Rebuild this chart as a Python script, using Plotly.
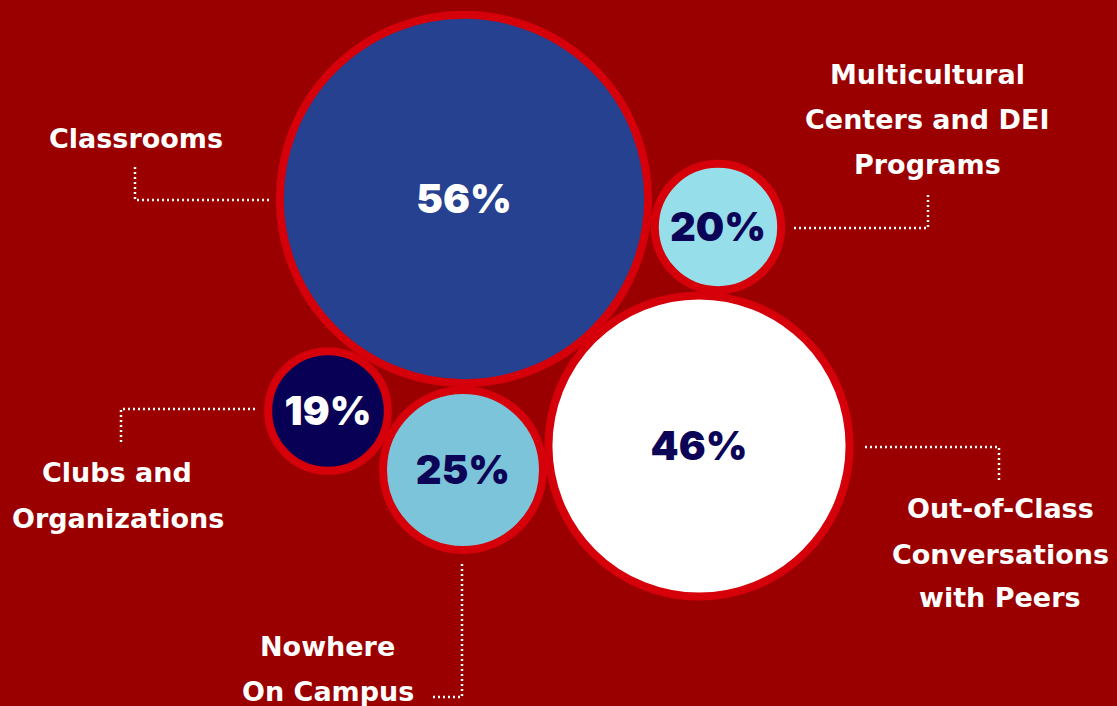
import plotly.graph_objects as go

# ---- data ----
categories = ["Classrooms", "Multicultural Centers and DEI Programs",
              "Out-of-Class Conversations with Peers", "Clubs and Organizations",
              "Nowhere On Campus"]
values = [56, 20, 46, 19, 25]

# ---- layout (pixel positions of the packed bubbles) ----
cx = [464, 718, 699, 328, 463]
cy = [199, 227, 446, 411, 470]
fills = ["#26418F", "#96DEEA", "#FFFFFF", "#070055", "#7BC4D9"]
text_colors = ["#FFFFFF", "#0B0457", "#0B0457", "#FFFFFF", "#0B0457"]

W, H = 1117, 706
BG = "#9B0000"
RING = "#D50009"
RING_W = 8
PX_PER_UNIT = 3.36  # outer radius per percentage point
TEXT_DY = 4         # optical centring of the value labels

diam = [2 * PX_PER_UNIT * v - RING_W for v in values]

fig = go.Figure()

# connectors (dotted elbows)
connectors = [
    [(135, 167), (135, 200), (270, 200)],
    [(928, 195), (928, 228), (793, 228)],
    [(121, 442), (121, 409), (257, 409)],
    [(462, 564), (462, 697), (430, 697)],
    [(999, 480), (999, 447), (865, 447)],
]
for pts in connectors:
    fig.add_trace(go.Scatter(
        x=[p[0] for p in pts], y=[p[1] for p in pts], mode="lines",
        line=dict(color="white", width=2.5, dash="2px,3px"),
        hoverinfo="skip", showlegend=False))

fig.add_trace(go.Scatter(
    x=cx, y=cy, mode="markers",
    marker=dict(size=diam, color=fills, line=dict(color=RING, width=RING_W),
                opacity=1),
    hovertext=[f"{c}: {v}%" for c, v in zip(categories, values)],
    hoverinfo="text", showlegend=False))

fig.add_trace(go.Scatter(
    x=cx, y=[y + TEXT_DY for y in cy], mode="text",
    text=[f"{v}%" for v in values],
    textposition="middle center",
    textfont=dict(family="Inter, DejaVu Sans", size=40, color=text_colors, weight=900),
    hoverinfo="skip", showlegend=False))

# category labels (one annotation per line for tight line spacing)
label_lines = [
    ("Classrooms", 136, 138),
    ("Multicultural", 927, 74),
    ("Centers and DEI", 927, 119.5),
    ("Programs", 927, 164),
    ("Clubs and", 117, 472.5),
    ("Organizations", 118, 518.5),
    ("Nowhere", 327.5, 646.5),
    ("On Campus", 327.5, 691),
    ("Out-of-Class", 1000, 508.5),
    ("Conversations", 1000, 554),
    ("with Peers", 1000, 597.5),
]
for txt, x, y in label_lines:
    fig.add_annotation(x=x, y=y, xref="x", yref="y", text=txt, showarrow=False,
                       xanchor="center", yanchor="middle",
                       font=dict(family="DejaVu Sans", size=27, color="white",
                                 weight="bold"))

fig.update_layout(
    width=W, height=H, autosize=False,
    margin=dict(l=0, r=0, t=0, b=0),
    paper_bgcolor=BG, plot_bgcolor=BG,
    xaxis=dict(range=[0, W], visible=False, fixedrange=True),
    yaxis=dict(range=[H, 0], visible=False, fixedrange=True),
)

fig.write_html("out.html",
               config={"displayModeBar": False},
               post_script="document.body.style.margin='0';"
                           "document.body.style.overflow='hidden';")
